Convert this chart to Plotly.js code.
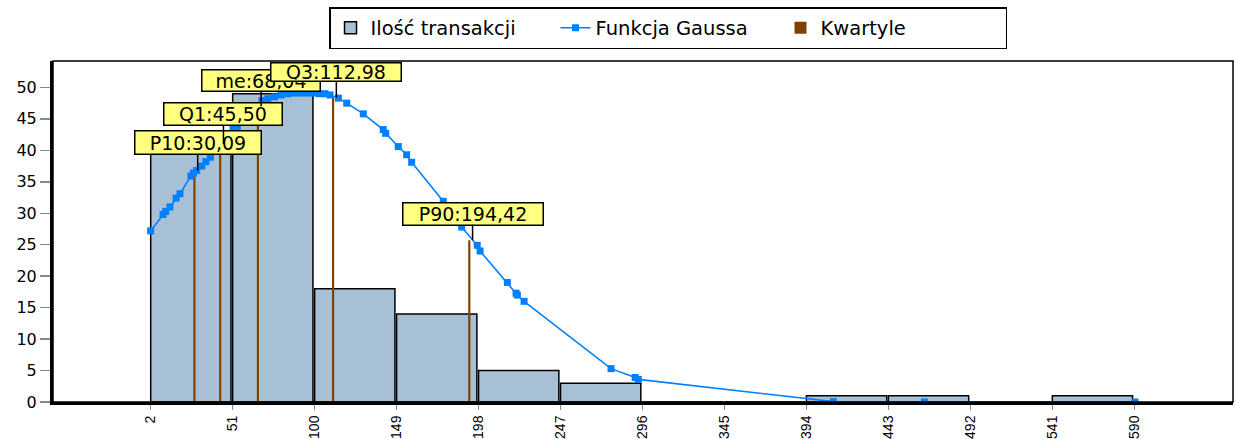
<!DOCTYPE html>
<html><head><meta charset="utf-8">
<script src="https://cdn.plot.ly/plotly-3.0.1.min.js"></script>
<style>html,body{margin:0;padding:0;background:#fff;} #chart{width:1235px;height:439px;}</style>
</head><body><div id="chart"></div>
<script>
// ---- data ----
const binEdges  = [2, 51, 100, 149, 198, 247, 296, 345, 394, 443, 492, 541];
const binCounts = [40, 49, 18, 14, 5, 3, 0, 0, 1, 1, 0, 1];
const tickValues = [2, 51, 100, 149, 198, 247, 296, 345, 394, 443, 492, 541, 590];
const tickLabels = ["2", "51", "100", "149", "198", "247", "296", "345", "394", "443", "492", "541", "590"];

const gaussX = [2, 9.4, 11, 13.5, 17.2, 19.5, 26, 27.5, 29.5, 32.5, 35, 37.7, 42, 46, 51.2, 53.8, 58, 63,
  68.5, 72, 76, 80, 84, 88, 92, 96, 100, 103, 106.2, 109.2, 114.2, 119.2, 129.1, 141, 142.5, 150, 155, 158,
  176.9, 187.9, 197.2, 198.9, 215.2, 220.4, 221.2, 225.2, 277.2, 291.6, 293.5, 410.1, 464.5, 590.4];
const gaussY = [27.2, 29.8, 30.3, 31.0, 32.4, 33.1, 35.9, 36.4, 36.8, 37.5, 38.2, 38.9, 40.3, 41.6, 43.5, 43.8, 44.6, 45.7,
  47.9, 48.2, 48.5, 48.8, 49.0, 49.1, 49.1, 49.1, 49.1, 49.0, 49.0, 48.8, 48.3, 47.5, 45.8, 43.3, 42.7, 40.6, 39.3, 38.1,
  31.9, 27.8, 24.9, 24.0, 19.0, 17.3, 17.0, 16.0, 5.3, 3.9, 3.6, 0.06, 0, 0];

const quartLabels  = ["P10:30,09", "Q1:45,50", "me:68,04", "Q3:112,98", "P90:194,42"];
const quartValues  = [30.09, 45.50, 68.04, 112.98, 194.42];
const quartHeights = [36.8, 41.0, 47.0, 48.4, 25.7];

const seriesNames = ["Ilość transakcji", "Funkcja Gaussa", "Kwartyle"];

// ---- styling / placement (not data) ----
const FONT = "DejaVu Sans";
const labelBoxCenterY = [41.3, 45.8, 51.1, 52.5, 29.95];   // label box centers, y units
const labelBoxW = [128, 120, 120, 132, 142];
const labelBoxH = [25, 24, 23, 20, 24];

const traces = [
  {
    type: "bar", name: seriesNames[0], legendrank: 1,
    x: binEdges, y: binCounts, offset: 0, width: 48,
    marker: {color: "#A8C0D6", line: {color: "#000", width: 1.5}},
    hoverinfo: "skip"
  },
  {
    type: "bar", name: seriesNames[2], legendrank: 3,
    x: quartValues, y: quartHeights, offset: -2.6, width: 1.3,
    marker: {color: "#804000", line: {width: 0}},
    hoverinfo: "skip"
  },
  {
    type: "scatter", mode: "lines+markers", name: seriesNames[1], legendrank: 2,
    x: gaussX, y: gaussY,
    line: {color: "#0080FF", width: 1.6},
    marker: {symbol: "square", size: 7, color: "#0080FF"},
    hoverinfo: "skip"
  }
];

const annotations = quartLabels.map((t, i) => ({
  x: quartValues[i], y: quartHeights[i], xref: "x", yref: "y",
  axref: "x", ayref: "y", ax: quartValues[i], ay: labelBoxCenterY[i],
  text: t, showarrow: true, arrowhead: 0, arrowwidth: 1.5, arrowcolor: "#000", standoff: 0,
  font: {family: FONT, size: 19, color: "#000"},
  bgcolor: "#FFFF80", bordercolor: "#000", borderwidth: 1.5, borderpad: 1,
  width: labelBoxW[i] - 5, height: labelBoxH[i] - 5, align: "center", valign: "middle"
}));

const layout = {
  width: 1235, height: 439,
  margin: {l: 53, r: 2, t: 61, b: 37, pad: 0},
  paper_bgcolor: "#fff", plot_bgcolor: "#fff",
  font: {family: FONT, color: "#000"},
  barmode: "overlay",
  showlegend: true,
  legend: {
    orientation: "h", x: 0.5212, xanchor: "center", y: 1.158, yanchor: "top",
    bgcolor: "#fff", bordercolor: "#000", borderwidth: 1.5,
    font: {family: FONT, size: 19.5, color: "#000"},
    entrywidth: 180, entrywidthmode: "pixels", traceorder: "normal"
  },
  xaxis: {
    range: [-56.4, 649], tickmode: "array", tickvals: tickValues, ticktext: tickLabels,
    tickangle: -90, ticks: "outside", ticklen: 5, tickwidth: 1.5, tickcolor: "#888",
    showline: true, linewidth: 3, linecolor: "#000", showgrid: false, zeroline: false,
    tickfont: {family: "Liberation Sans", size: 14, color: "#000"}, fixedrange: true
  },
  yaxis: {
    range: [0, 54.2], tick0: 0, dtick: 5, ticks: "outside", ticklen: 10, tickwidth: 1.5, tickcolor: "#888",
    showline: true, linewidth: 3, linecolor: "#000", showgrid: false, zeroline: false,
    tickfont: {family: FONT, size: 16, color: "#000"}, fixedrange: true
  },
  shapes: [{
    type: "rect", xref: "paper", yref: "paper", x0: 0, x1: 1, y0: 0, y1: 1,
    line: {color: "#000", width: 1.5}, layer: "above"
  }],
  annotations: annotations
};

Plotly.newPlot("chart", traces, layout, {staticPlot: true, displayModeBar: false});
</script>
</body></html>
